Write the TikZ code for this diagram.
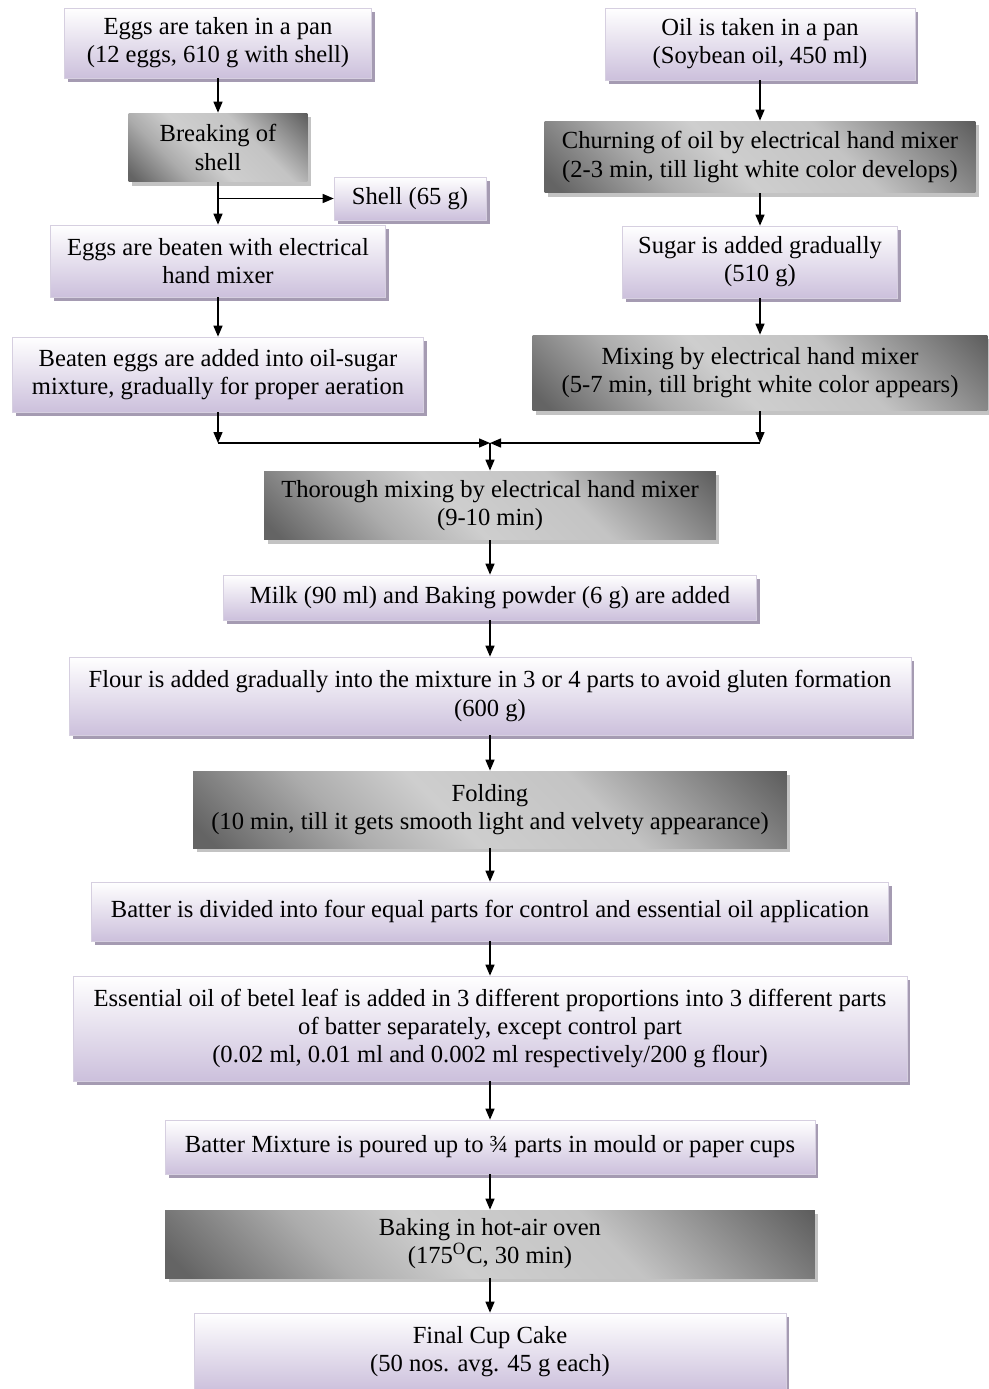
\documentclass[tikz,border=0pt]{standalone}
\usepackage{fontspec}
\setmainfont{Liberation Serif}
\usetikzlibrary{arrows.meta,shadows}

\definecolor{lavande}{RGB}{204,192,220}
\definecolor{bordlav}{RGB}{214,207,224}
\definecolor{ombrelav}{RGB}{165,155,178}
\definecolor{ombregris}{RGB}{195,195,195}
\definecolor{grisfonce}{RGB}{100,100,100}
\definecolor{grismoyen}{RGB}{172,172,172}
\definecolor{grisclair}{RGB}{206,206,206}

\pgfdeclarehorizontalshading{metal}{100bp}{color(0bp)=(grisfonce); color(17bp)=(grisfonce); color(33bp)=(grismoyen); color(45bp)=(grisclair); color(62bp)=(grisclair!95!black); color(86bp)=(grisfonce!90!black); color(100bp)=(grisfonce!90!black)}

\tikzset{
  clair/.style={draw=bordlav, top color=white, bottom color=lavande, align=center,
    drop shadow={shadow xshift=2pt, shadow yshift=-2pt, fill=ombrelav, opacity=1}},
  sombre/.style={shading=metal, shading angle=45, align=center,
    drop shadow={shadow xshift=2pt, shadow yshift=-2pt, fill=ombregris, opacity=1}},
  fleche/.style={-{Triangle[length=2.2mm,width=1.8mm]}, line width=0.8pt}
}

\begin{document}
\begin{tikzpicture}[x=0.02cm,y=-0.02cm,font=\fontsize{14}{16}\selectfont] % diagramme en pixels

\useasboundingbox (0,0) rectangle (988,1389);

% colonne des oeufs
\node[clair, minimum width=6.14cm, minimum height=1.4cm] (oeuf) at (218,43) {Eggs are taken in a pan\\(12 eggs, 610 g with shell)};
\node[sombre, minimum width=3.58cm, minimum height=1.38cm] (casse) at (218,147.5) {Breaking of\\shell};
\node[clair, minimum width=3.04cm, minimum height=0.86cm] (coquille) at (410,198.5) {Shell (65 g)};
\node[clair, minimum width=6.7cm, minimum height=1.44cm] (battu) at (218,261) {Eggs are beaten with electrical\\hand mixer};
\node[clair, minimum width=8.22cm, minimum height=1.5cm] (ajout) at (218,374.5) {Beaten eggs are added into oil-sugar\\mixture, gradually for proper aeration};

% colonne de l'huile
\node[clair, minimum width=6.2cm, minimum height=1.44cm] (huile) at (760,44) {Oil is taken in a pan\\(Soybean oil, 450 ml)};
\node[sombre, minimum width=8.62cm, minimum height=1.44cm] (baratte) at (760,157) {Churning of oil by electrical hand mixer\\(2-3 min, till light white color develops)};
\node[clair, minimum width=5.5cm, minimum height=1.44cm] (sucre) at (760,262) {Sugar is added gradually\\(510 g)};
\node[sombre, minimum width=9.1cm, minimum height=1.52cm] (melange) at (760,373) {Mixing by electrical hand mixer\\(5-7 min, till bright white color appears)};

% tronc commun
\node[sombre, minimum width=9.04cm, minimum height=1.38cm] (complet) at (490,505.5) {Thorough mixing by electrical hand mixer\\(9-10 min)};
\node[clair, minimum width=10.66cm, minimum height=0.9cm] (lait) at (490,597.5) {Milk (90 ml) and Baking powder (6 g) are added};
\node[clair, minimum width=16.84cm, minimum height=1.56cm] (farine) at (490,696) {Flour is added gradually into the mixture in 3 or 4 parts to avoid gluten formation\\(600 g)};
\node[sombre, minimum width=11.88cm, minimum height=1.54cm] (pliage) at (490,809.5) {Folding\\(10 min, till it gets smooth light and velvety appearance)};
\node[clair, minimum width=15.94cm, minimum height=1.18cm] (divise) at (490,911.5) {Batter is divided into four equal parts for control and essential oil application};
\node[clair, minimum width=16.68cm, minimum height=2.1cm] (essence) at (490,1028.5) {Essential oil of betel leaf is added in 3 different proportions into 3 different parts\\of batter separately, except control part\\(0.02 ml, 0.01 ml and 0.002 ml respectively/200 g flour)};
\node[clair, minimum width=13cm, minimum height=1.08cm] (moule) at (490,1147) {Batter Mixture is poured up to ¾ parts in mould or paper cups};
\node[sombre, minimum width=13cm, minimum height=1.36cm] (cuisson) at (490,1244) {Baking in hot-air oven\\(175\textsuperscript{O}C, 30 min)};
\node[clair, minimum width=11.84cm, minimum height=1.56cm] (final) at (490,1352) {Final Cup Cake\\(50 nos. avg. 45 g each)};

\coordinate (branche) at (casse.south |- coquille.west);
\coordinate (jg) at (218,443);
\coordinate (jd) at (760,443);
\coordinate (jc) at (490,443);

\draw[fleche] (oeuf) -- (casse);
\draw[fleche] (casse) -- (battu);
\draw[fleche] (branche) -- (coquille);
\draw[fleche] (battu) -- (ajout);
\draw[fleche] (ajout) -- (jg);
\draw[fleche] (jg) -- (jc);

\draw[fleche] (huile) -- (baratte);
\draw[fleche] (baratte) -- (sucre);
\draw[fleche] (sucre) -- (melange);
\draw[fleche] (melange) -- (jd);
\draw[fleche] (jd) -- (jc);
\draw[fleche] (jc) -- (complet);

\foreach \a/\b in {complet/lait,lait/farine,farine/pliage,pliage/divise,divise/essence,essence/moule,moule/cuisson,cuisson/final} % fleches du tronc
{
	\draw[fleche] (\a) -- (\b);
}

\end{tikzpicture}
\end{document}
